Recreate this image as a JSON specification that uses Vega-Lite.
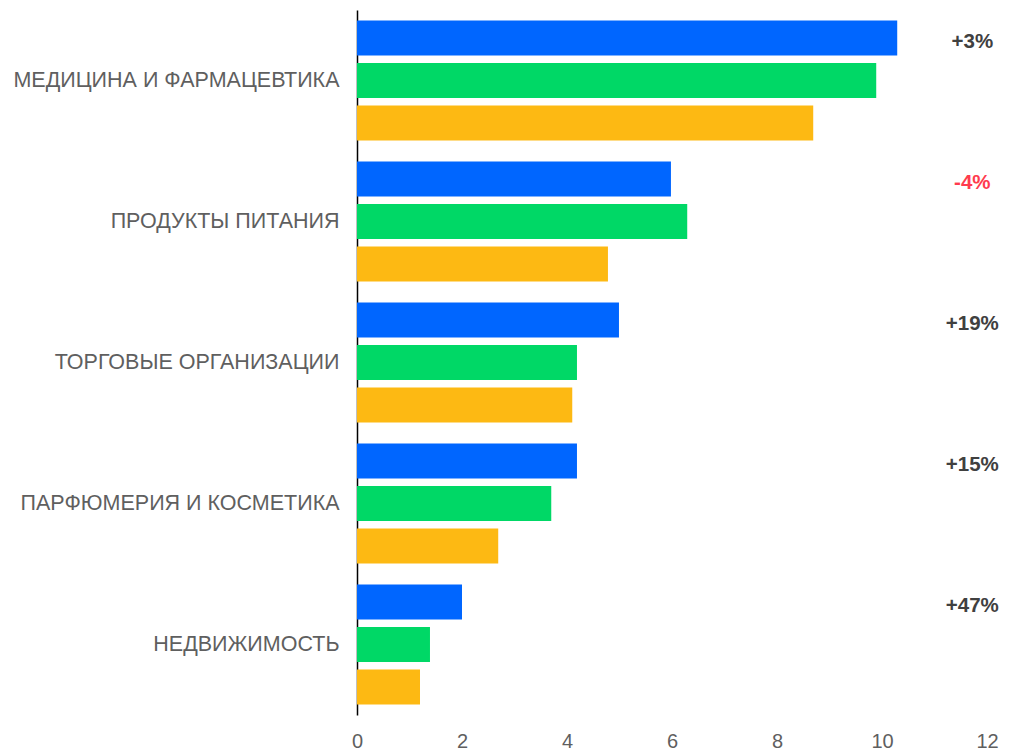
{
  "$schema": "https://vega.github.io/schema/vega-lite/v6.json",
  "width": 630,
  "height": 705,
  "autosize": {"type": "none"},
  "padding": {"left": 357, "top": 10, "right": 28, "bottom": 35},
  "background": "white",
  "config": {"view": {"stroke": null}, "font": "Liberation Sans"},
  "datasets": {
    "bars": [
      {"category": "МЕДИЦИНА И ФАРМАЦЕВТИКА", "series": "2023", "value": 10.29},
      {"category": "МЕДИЦИНА И ФАРМАЦЕВТИКА", "series": "2022", "value": 9.89},
      {"category": "МЕДИЦИНА И ФАРМАЦЕВТИКА", "series": "2021", "value": 8.69},
      {"category": "ПРОДУКТЫ ПИТАНИЯ", "series": "2023", "value": 5.98},
      {"category": "ПРОДУКТЫ ПИТАНИЯ", "series": "2022", "value": 6.29},
      {"category": "ПРОДУКТЫ ПИТАНИЯ", "series": "2021", "value": 4.78},
      {"category": "ТОРГОВЫЕ ОРГАНИЗАЦИИ", "series": "2023", "value": 4.99},
      {"category": "ТОРГОВЫЕ ОРГАНИЗАЦИИ", "series": "2022", "value": 4.19},
      {"category": "ТОРГОВЫЕ ОРГАНИЗАЦИИ", "series": "2021", "value": 4.1},
      {"category": "ПАРФЮМЕРИЯ И КОСМЕТИКА", "series": "2023", "value": 4.19},
      {"category": "ПАРФЮМЕРИЯ И КОСМЕТИКА", "series": "2022", "value": 3.7},
      {"category": "ПАРФЮМЕРИЯ И КОСМЕТИКА", "series": "2021", "value": 2.69},
      {"category": "НЕДВИЖИМОСТЬ", "series": "2023", "value": 2.0},
      {"category": "НЕДВИЖИМОСТЬ", "series": "2022", "value": 1.39},
      {"category": "НЕДВИЖИМОСТЬ", "series": "2021", "value": 1.2}
    ],
    "labels": [
      {"category": "МЕДИЦИНА И ФАРМАЦЕВТИКА", "series": "2023", "change": "+3%"},
      {"category": "ПРОДУКТЫ ПИТАНИЯ", "series": "2023", "change": "-4%"},
      {"category": "ТОРГОВЫЕ ОРГАНИЗАЦИИ", "series": "2023", "change": "+19%"},
      {"category": "ПАРФЮМЕРИЯ И КОСМЕТИКА", "series": "2023", "change": "+15%"},
      {"category": "НЕДВИЖИМОСТЬ", "series": "2023", "change": "+47%"}
    ]
  },
  "encoding": {
    "y": {
      "field": "category",
      "type": "nominal",
      "sort": null,
      "scale": {"paddingInner": 0.15, "paddingOuter": 0.075},
      "axis": {
        "title": null,
        "ticks": false,
        "domain": true,
        "domainColor": "#000000",
        "domainWidth": 1.5,
        "labelFont": "Liberation Sans",
        "labelFontSize": 21.5,
        "labelColor": "#5f5f5f",
        "labelPadding": 18,
        "labelLimit": 400
      }
    },
    "yOffset": {
      "field": "series",
      "type": "nominal",
      "sort": ["2023", "2022", "2021"],
      "scale": {"domain": ["2023", "2022", "2021"], "paddingInner": 0.18, "paddingOuter": 0}
    }
  },
  "layer": [
    {
      "data": {"name": "bars"},
      "mark": {"type": "bar"},
      "encoding": {
        "x": {
          "field": "value",
          "type": "quantitative",
          "scale": {"domain": [0, 12], "nice": false},
          "axis": {
            "title": null,
            "values": [0, 2, 4, 6, 8, 10, 12],
            "grid": false,
            "ticks": false,
            "domain": false,
            "labelFlush": false,
            "labelBound": false,
            "labelFont": "Liberation Sans",
            "labelFontSize": 20,
            "labelColor": "#5f5f5f",
            "labelPadding": 16
          }
        },
        "color": {
          "field": "series",
          "type": "nominal",
          "scale": {"domain": ["2023", "2022", "2021"], "range": ["#0066ff", "#00d866", "#fdb913"]},
          "legend": null
        }
      }
    },
    {
      "data": {"name": "labels"},
      "mark": {"type": "text", "fontWeight": "bold", "fontSize": 20.5, "font": "Liberation Sans", "align": "center", "baseline": "middle", "dy": 4},
      "encoding": {
        "x": {"datum": 11.72, "type": "quantitative"},
        "text": {"field": "change"},
        "color": {
          "condition": {"test": "datum.change[0] === '-'", "value": "#ff3b4e"},
          "value": "#404040"
        }
      }
    }
  ]
}
